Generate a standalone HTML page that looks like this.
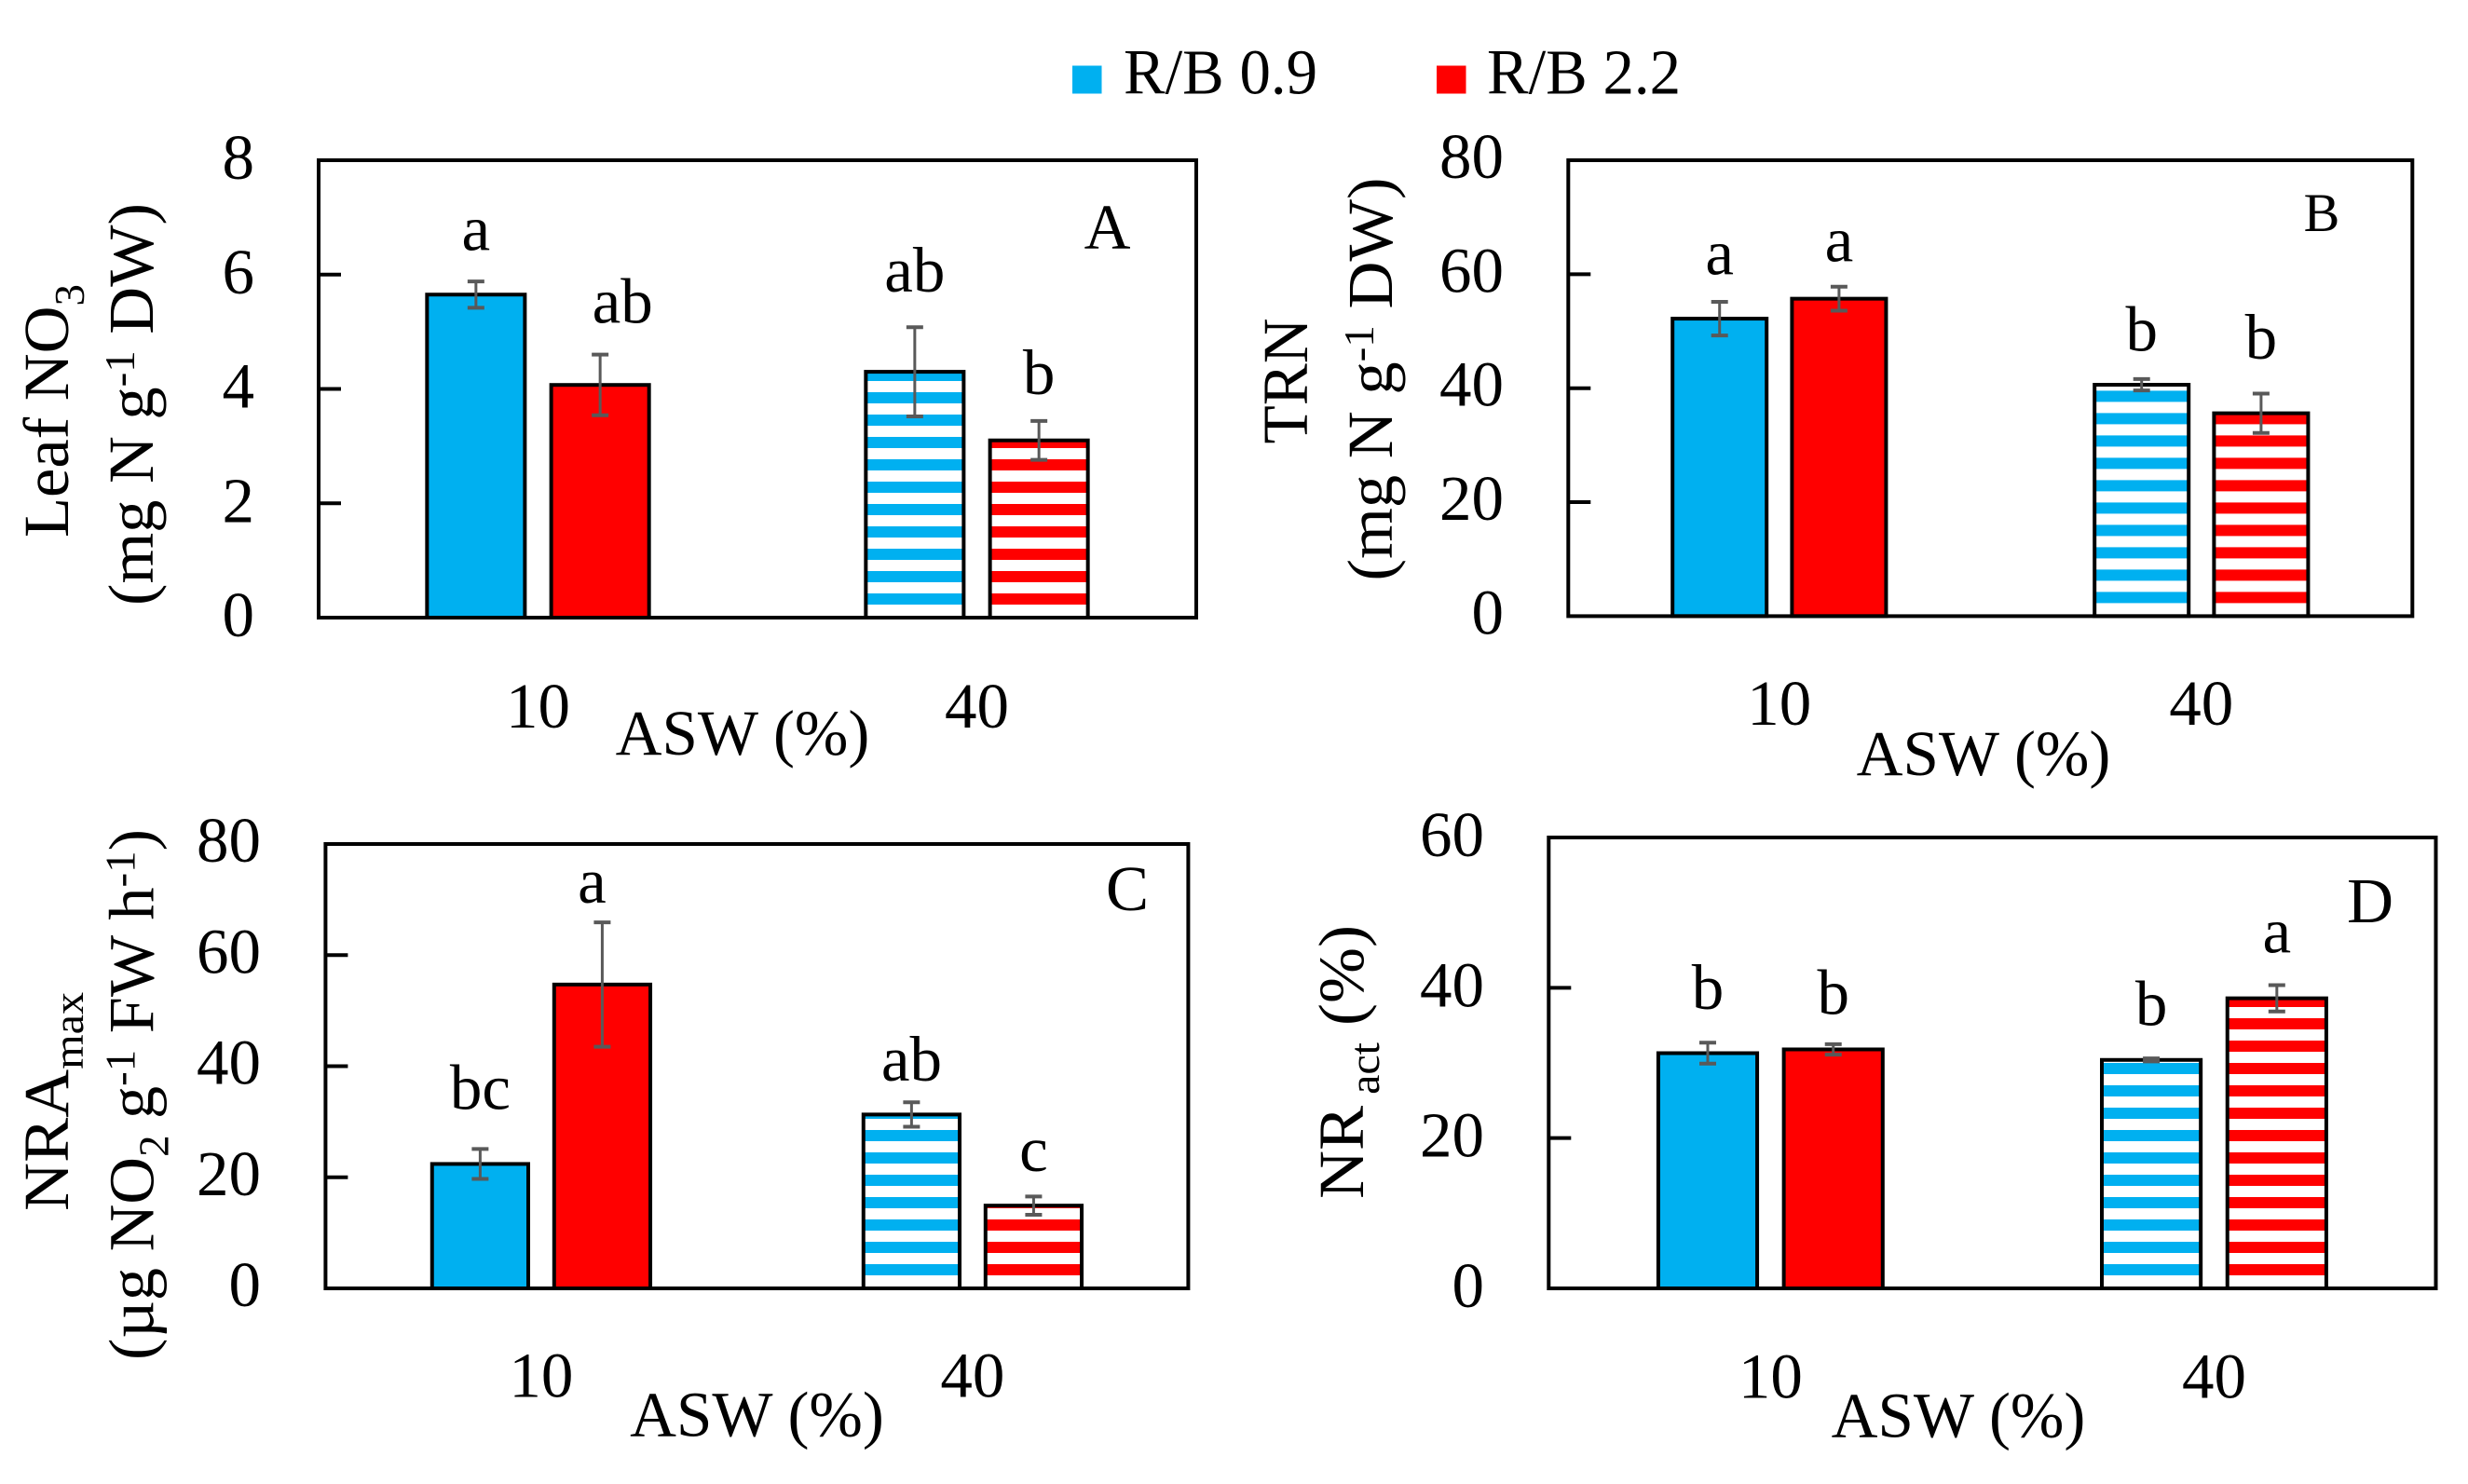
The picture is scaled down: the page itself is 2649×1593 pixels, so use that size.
<!DOCTYPE html>
<html lang="en">
<head>
<meta charset="utf-8">
<title>Leaf NO3, TRN, NRAmax and NRact by ASW and R/B ratio</title>
<style>
  html, body { margin: 0; padding: 0; background: #fff; }
  svg { display: block; }
  text { font-family: "Liberation Serif", serif; fill: #000; font-size: 69px; }
</style>
</head>
<body>
<svg id="figure" xmlns="http://www.w3.org/2000/svg" width="2649" height="1593" viewBox="0 0 2649 1593">
  <rect x="0" y="0" width="2649" height="1593" fill="#ffffff"/>

  <g>
    <g>
      <rect x="1151" y="70.5" width="31.5" height="30" fill="#00B0F0"/>
      <text x="1206" y="100.5" textLength="208" lengthAdjust="spacingAndGlyphs">R/B 0.9</text>
    </g>
    <g>
      <rect x="1542" y="70.5" width="31.5" height="30" fill="#FF0000"/>
      <text x="1596" y="100.5" textLength="208" lengthAdjust="spacingAndGlyphs">R/B 2.2</text>
    </g>
  </g>

  <text transform="translate(73,441) rotate(-90)" text-anchor="middle" textLength="272" lengthAdjust="spacingAndGlyphs">Leaf NO<tspan dy="17" font-size="46">3</tspan></text>
  <text transform="translate(164,434) rotate(-90)" text-anchor="middle" textLength="432" lengthAdjust="spacingAndGlyphs">(mg N g<tspan dy="-20" font-size="46">-1</tspan><tspan dy="20"> DW)</tspan></text>
  <text x="797" y="810" text-anchor="middle">ASW (%)</text>
  <text x="1188.5" y="266.5" text-anchor="middle">A</text>

  <text transform="translate(1403,409) rotate(-90)" text-anchor="middle" textLength="135" lengthAdjust="spacingAndGlyphs">TRN</text>
  <text transform="translate(1494,407) rotate(-90)" text-anchor="middle" textLength="433" lengthAdjust="spacingAndGlyphs">(mg N g<tspan dy="-20" font-size="46">-1</tspan><tspan dy="20"> DW)</tspan></text>
  <text x="2129" y="832" text-anchor="middle">ASW (%)</text>
  <text x="2492" y="248" text-anchor="middle" style="font-size:58px">B</text>

  <text transform="translate(73,1182.5) rotate(-90)" text-anchor="middle" textLength="235" lengthAdjust="spacingAndGlyphs">NRA<tspan dy="16" font-size="46">max</tspan></text>
  <text transform="translate(164.5,1175) rotate(-90)" text-anchor="middle" textLength="570" lengthAdjust="spacingAndGlyphs">(µg NO<tspan dy="16" font-size="46">2</tspan><tspan dy="-16"> g</tspan><tspan dy="-20" font-size="46">-1</tspan><tspan dy="20"> FW h</tspan><tspan dy="-20" font-size="46">-1</tspan><tspan dy="20">)</tspan></text>
  <text x="812.5" y="1541.5" text-anchor="middle">ASW (%)</text>
  <text x="1210" y="977" text-anchor="middle">C</text>

  <text transform="translate(1463,1140) rotate(-90)" text-anchor="middle" textLength="294" lengthAdjust="spacingAndGlyphs">NR<tspan dy="17" font-size="46"> act</tspan><tspan dy="-17"> (%)</tspan></text>
  <text x="2102" y="1542.5" text-anchor="middle">ASW (%)</text>
  <text x="2544" y="990" text-anchor="middle">D</text>
</svg>

<script>
// Shared categories
const categories = ["10", "40"];

// Panel A: Leaf NO3
const aTicks = [0, 2, 4, 6, 8];
const aValues09 = [5.65, 4.3];
const aValues22 = [4.07, 3.1];
const aErrors09 = [0.23, 0.78];
const aErrors22 = [0.53, 0.34];
const aLetters09 = ["a", "ab"];
const aLetters22 = ["ab", "b"];
const aLetterLevels09 = [6.43, 5.7];
const aLetterLevels22 = [5.16, 3.91];

// Panel B: TRN
const bTicks = [0, 20, 40, 60, 80];
const bValues09 = [52.2, 40.6];
const bValues22 = [55.7, 35.6];
const bErrors09 = [2.95, 1.0];
const bErrors22 = [2.1, 3.45];
const bLetters09 = ["a", "b"];
const bLetters22 = ["a", "b"];
const bLetterLevels09 = [60, 46.6];
const bLetterLevels22 = [62.3, 45.2];

// Panel C: NRAmax
const cTicks = [0, 20, 40, 60, 80];
const cValues09 = [22.4, 31.3];
const cValues22 = [54.7, 14.9];
const cErrors09 = [2.7, 2.2];
const cErrors22 = [11.2, 1.65];
const cLetters09 = ["bc", "ab"];
const cLetters22 = ["a", "c"];
const cLetterLevels09 = [32.3, 37.4];
const cLetterLevels22 = [69.4, 21.1];

// Panel D: NRact
const dTicks = [0, 20, 40, 60];
const dValues09 = [31.3, 30.4];
const dValues22 = [31.8, 38.6];
const dErrors09 = [1.4, 0.2];
const dErrors22 = [0.7, 1.75];
const dLetters09 = ["b", "b"];
const dLetters22 = ["b", "a"];
const dLetterLevels09 = [37.2, 35];
const dLetterLevels22 = [36.5, 44.7];

const SVG_NS = "http://www.w3.org/2000/svg";
const BLUE = "#00B0F0";
const RED = "#FF0000";
const svgRoot = document.getElementById("figure");

function mk(parent, tag, attrs, name) {
  const el = document.createElementNS(SVG_NS, tag);
  for (const k in attrs) el.setAttribute(k, attrs[k]);
  
  
  parent.appendChild(el);
  return el;
}

function drawPanel(p) {
  const g = mk(svgRoot, "g", {}, "panel-" + p.id);
  const yMax = p.ticks[p.ticks.length - 1];
  const y = v => p.bottom - (v / yMax) * (p.bottom - p.top);
  const band = (p.right - p.left) / categories.length;
  const xc = i => p.left + (i + 0.5) * band;
  const barW = band * 0.223;
  const pitch = band * 0.283;

  // y tick marks and labels
  p.ticks.forEach(t => {
    const ty = y(t);
    if (t !== 0 && t !== yMax) {
      mk(g, "line", { x1: p.left, x2: p.left + 24, y1: ty, y2: ty, stroke: "#000", "stroke-width": 4 }, "y-tick-" + p.id + "-" + t);
    }
    const lab = mk(g, "text", { x: p.labelRight, y: ty + p.labelDy, "text-anchor": "end" }, "y-tick-label-" + p.id + "-" + t);
    lab.textContent = String(t);
  });

  // x category labels
  categories.forEach((c, i) => {
    const lab = mk(g, "text", { x: xc(i), y: p.catBaseline, "text-anchor": "middle" }, "x-tick-label-" + p.id + "-" + c);
    lab.textContent = c;
  });

  // bars
  const series = [
    { key: "rb09", color: BLUE, sign: -0.5, values: p.values09, errors: p.errors09, letters: p.letters09, levels: p.levels09 },
    { key: "rb22", color: RED, sign: 0.5, values: p.values22, errors: p.errors22, letters: p.letters22, levels: p.levels22 }
  ];
  series.forEach(s => {
    s.values.forEach((v, i) => {
      const suffix = p.id + "-" + s.key + "-asw" + categories[i];
      const bx = xc(i) + s.sign * pitch - barW / 2;
      const by = y(v);
      const bar = mk(g, "g", {}, "bar-" + suffix);
      const hatched = i === 1;
      mk(bar, "rect", { x: bx, y: by, width: barW, height: p.bottom - by, fill: hatched ? "#fff" : s.color }, "bar-fill-" + suffix);
      if (hatched) {
        for (let off = 14, n = 0; p.bottom - off > by; off += 24, n++) {
          const stripeBottom = p.bottom - off;
          const stripeTop = Math.max(stripeBottom - 12, by);
          mk(bar, "rect", { x: bx, y: stripeTop, width: barW, height: stripeBottom - stripeTop, fill: s.color }, "bar-stripe-" + suffix + "-" + n);
        }
      }
      mk(bar, "rect", { x: bx, y: by, width: barW, height: p.bottom - by, fill: "none", stroke: "#000", "stroke-width": 4 }, "bar-outline-" + suffix);
    });
  });

  // frame on top of bars
  mk(g, "rect", { x: p.left, y: p.top, width: p.right - p.left, height: p.bottom - p.top, fill: "none", stroke: "#000", "stroke-width": 4 }, "plot-frame-" + p.id);

  // error bars and significance letters
  series.forEach(s => {
    s.values.forEach((v, i) => {
      const suffix = p.id + "-" + s.key + "-asw" + categories[i];
      const cx = xc(i) + s.sign * pitch;
      const hi = y(v + s.errors[i]);
      const lo = y(v - s.errors[i]);
      const eb = mk(g, "g", { stroke: "#595959" }, "error-bar-" + suffix);
      mk(eb, "line", { x1: cx, x2: cx, y1: hi, y2: lo, "stroke-width": 3 }, "error-stem-" + suffix);
      mk(eb, "line", { x1: cx - 9, x2: cx + 9, y1: hi, y2: hi, "stroke-width": 4 }, "error-cap-top-" + suffix);
      mk(eb, "line", { x1: cx - 9, x2: cx + 9, y1: lo, y2: lo, "stroke-width": 4 }, "error-cap-bottom-" + suffix);
      const shift = (p.letterShift && p.letterShift[s.key + i]) || 0;
      const lt = mk(g, "text", { x: cx + shift, y: y(s.levels[i]), "text-anchor": "middle" }, "significance-letter-" + suffix);
      lt.textContent = s.letters[i];
    });
  });
}

drawPanel({ id: "a", left: 342, right: 1284, top: 172, bottom: 663, labelRight: 273, labelDy: 20, catBaseline: 781,
  letterShift: { rb220: 24 },
  ticks: aTicks, values09: aValues09, values22: aValues22, errors09: aErrors09, errors22: aErrors22,
  letters09: aLetters09, letters22: aLetters22, levels09: aLetterLevels09, levels22: aLetterLevels22 });

drawPanel({ id: "b", left: 1683.3, right: 2589.3, top: 172, bottom: 661.4, labelRight: 1614, labelDy: 19, catBaseline: 778,
  ticks: bTicks, values09: bValues09, values22: bValues22, errors09: bErrors09, errors22: bErrors22,
  letters09: bLetters09, letters22: bLetters22, levels09: bLetterLevels09, levels22: bLetterLevels22 });

drawPanel({ id: "c", left: 349.4, right: 1275.4, top: 906, bottom: 1383, labelRight: 280, labelDy: 19, catBaseline: 1499.7,
  letterShift: { rb220: -11 },
  ticks: cTicks, values09: cValues09, values22: cValues22, errors09: cErrors09, errors22: cErrors22,
  letters09: cLetters09, letters22: cLetters22, levels09: cLetterLevels09, levels22: cLetterLevels22 });

drawPanel({ id: "d", left: 1662.3, right: 2614.5, top: 899, bottom: 1383, labelRight: 1593, labelDy: 20, catBaseline: 1500.7,
  ticks: dTicks, values09: dValues09, values22: dValues22, errors09: dErrors09, errors22: dErrors22,
  letters09: dLetters09, letters22: dLetters22, levels09: dLetterLevels09, levels22: dLetterLevels22 });
</script>
</body>
</html>
